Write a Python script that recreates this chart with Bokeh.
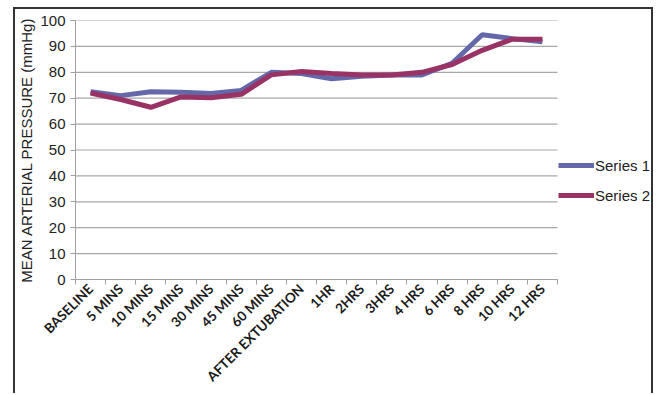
import math
from bokeh.plotting import figure
from bokeh.models import FixedTicker, Legend, LegendItem, Range1d
from bokeh.embed import file_html
from bokeh.resources import INLINE

categories = ["BASELINE", "5 MINS", "10 MINS", "15 MINS", "30 MINS", "45 MINS", "60 MINS",
              "AFTER EXTUBATION", "1HR", "2HRS", "3HRS", "4 HRS", "6 HRS", "8 HRS", "10 HRS", "12 HRS"]
series1 = [72.5, 71.0, 72.5, 72.3, 71.8, 73.0, 80.0, 79.5, 77.5, 78.5, 79.0, 79.0, 83.5, 94.5, 93.0, 91.8]
series2 = [72.0, 69.5, 66.5, 70.5, 70.2, 71.5, 79.0, 80.3, 79.5, 79.0, 79.0, 80.0, 83.0, 88.5, 92.8, 92.8]
y_ticks = list(range(0, 101, 10))

n = len(categories)
xs = [i + 0.5 for i in range(n)]
# plot area spans n categories; the frame extends further right to host the legend
x_end = n * 580 / 482

p = figure(width=640, height=386, output_backend="svg", toolbar_location=None,
           x_range=Range1d(0, x_end), y_range=Range1d(0, 100),
           min_border_left=60, min_border_right=0, min_border_top=11, min_border_bottom=116,
           styles={"margin-left": "13px", "margin-top": "7px",
                   "border-left": "2px solid #333", "border-top": "2px solid #333",
                   "border-right": "2px solid #333"})
p.outline_line_color = None
p.background_fill_color = "white"
p.border_fill_color = "white"

# horizontal gridlines limited to the category area
p.segment(x0=[0] * len(y_ticks), x1=[n] * len(y_ticks), y0=y_ticks, y1=y_ticks,
          line_color="#a8a8a8", line_width=1.2)

r1 = p.line(xs, series1, line_color="#6468A8", line_width=5)
r2 = p.line(xs, series2, line_color="#993366", line_width=5)

# axes
p.xaxis.bounds = (0, n)
p.xaxis.ticker = FixedTicker(ticks=xs, minor_ticks=list(range(n + 1)))
p.xaxis.major_label_overrides = {x: c for x, c in zip(xs, categories)}
p.xaxis.major_label_orientation = math.pi / 4
p.xaxis.major_tick_out = 0
p.xaxis.major_tick_in = 0
p.xaxis.minor_tick_out = 5
p.xaxis.minor_tick_in = 0
p.xaxis.minor_tick_line_color = "#a0a0a0"
p.xaxis.axis_line_color = "#a0a0a0"
p.xaxis.major_label_text_font = "Lato"
p.xaxis.major_label_text_font_style = "bold"
p.xaxis.major_label_text_font_size = "13.5px"
p.xaxis.major_label_text_color = "#1a1a1a"
p.xaxis.major_label_standoff = 2

p.yaxis.ticker = FixedTicker(ticks=y_ticks)
p.yaxis.minor_tick_line_color = None
p.yaxis.major_tick_out = 5
p.yaxis.major_tick_in = 0
p.yaxis.major_tick_line_color = "#a0a0a0"
p.yaxis.axis_line_color = "#a0a0a0"
p.yaxis.major_label_text_font = "Liberation Sans"
p.yaxis.major_label_text_font_size = "15px"
p.yaxis.major_label_text_color = "#222"
p.yaxis.major_label_standoff = 5
p.yaxis.axis_label = "MEAN ARTERIAL PRESSURE (mmHg)"
p.yaxis.axis_label_text_font = "Liberation Sans"
p.yaxis.axis_label_text_font_style = "normal"
p.yaxis.axis_label_text_font_size = "15px"
p.yaxis.axis_label_text_color = "#222"
p.yaxis.axis_label_standoff = 2

p.xgrid.grid_line_color = None
p.ygrid.grid_line_color = None

legend = Legend(items=[LegendItem(label="Series 1", renderers=[r1]),
                       LegendItem(label="Series 2", renderers=[r2])],
                location=(483, 74), padding=0, margin=0, spacing=10,
                glyph_width=36, glyph_height=20, label_height=20, label_standoff=1,
                label_text_font="Liberation Sans", label_text_font_size="15px",
                label_text_color="#222", border_line_color=None,
                background_fill_alpha=0)
p.add_layout(legend, "center")

open("out.html", "w").write(file_html(p, INLINE))
